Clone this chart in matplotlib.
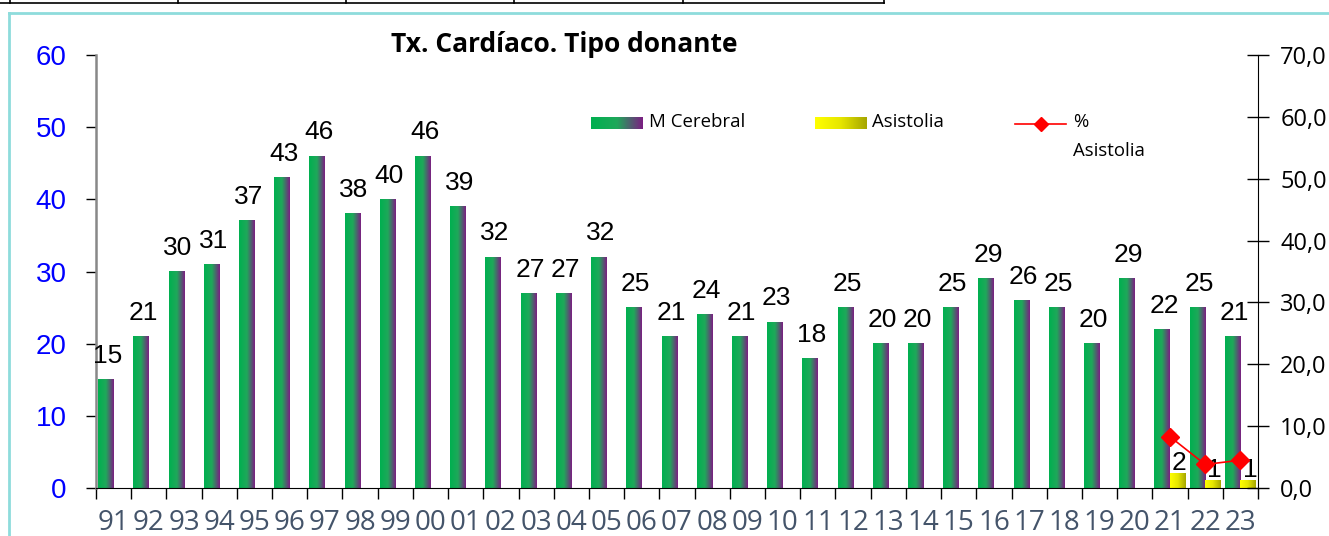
import matplotlib
matplotlib.use("Agg")
import matplotlib.pyplot as plt
import numpy as np
from matplotlib.colors import LinearSegmentedColormap
from matplotlib.lines import Line2D
from matplotlib.ticker import FixedLocator, FuncFormatter

years = ["91", "92", "93", "94", "95", "96", "97", "98", "99", "00", "01",
         "02", "03", "04", "05", "06", "07", "08", "09", "10", "11", "12",
         "13", "14", "15", "16", "17", "18", "19", "20", "21", "22", "23"]
m_cerebral = [15, 21, 30, 31, 37, 43, 46, 38, 40, 46, 39, 32, 27, 27, 32, 25,
              21, 24, 21, 23, 18, 25, 20, 20, 25, 29, 26, 25, 20, 29, 22, 25, 21]
asistolia_years = ["21", "22", "23"]
asistolia = [2, 1, 1]
pct_asistolia = [8.3, 3.8, 4.5]

W, H = 1329, 536
fig = plt.figure(figsize=(W / 100, H / 100), dpi=100)

def fx(px):
    return px / W

def fy(py):
    return 1 - py / H

# outer frame bits (table row above, cyan chart border)
fig.add_artist(Line2D([fx(0), fx(884)], [fy(3), fy(3)], color="black", lw=1.2))
for px in [10, 178, 346, 514, 683, 884]:
    fig.add_artist(Line2D([fx(px), fx(px)], [fy(0), fy(3)], color="black", lw=1.2))
fig.add_artist(Line2D([fx(9), fx(1329)], [fy(13), fy(13)], color="#8EDCDC", lw=2))
fig.add_artist(Line2D([fx(9), fx(9)], [fy(13), fy(536)], color="#8EDCDC", lw=2))

ax = fig.add_axes([fx(96), fy(488), fx(1258) - fx(96), fy(55) - fy(488)])
ax2 = ax.twinx()

green_cmap = LinearSegmentedColormap.from_list("mc", ["#00B050", "#1FA85A", "#7B1F82"])
yellow_cmap = LinearSegmentedColormap.from_list("as", ["#FFFF00", "#E6E600", "#A6A600"])
grad = np.linspace(0, 1, 64).reshape(1, -1)
bw = 0.44

x = np.arange(len(years))
for i, v in enumerate(m_cerebral):
    ax.imshow(grad, extent=(i - bw, i, 0, v), cmap=green_cmap, aspect="auto",
              interpolation="bilinear", zorder=2)
    ax.text(i - bw / 2 + 0.05, v + 2.3, str(v), ha="center", va="baseline",
            fontsize=19, family="Liberation Sans", color="black", zorder=5)

xa = np.array([years.index(y) for y in asistolia_years])
for i, v in zip(xa, asistolia):
    ax.imshow(grad, extent=(i, i + bw, 0, v), cmap=yellow_cmap, aspect="auto",
              interpolation="bilinear", zorder=2)
    ax.text(i + bw / 2 + 0.05, v + 0.5, str(v), ha="center", va="baseline",
            fontsize=19, family="Liberation Sans", color="black", zorder=6)

ax2.plot(xa, pct_asistolia, color="red", lw=1.2, marker="D", markersize=9,
         markerfacecolor="red", markeredgecolor="red", zorder=4)

ax.set_xlim(-0.5, len(years) - 0.5)
ax.set_ylim(0, 60)
ax2.set_ylim(0, 70)

# x axis: tick marks on category boundaries, labels at centres
ax.xaxis.set_major_locator(FixedLocator(np.arange(len(years) + 1) - 0.5))
ax.xaxis.set_minor_locator(FixedLocator(x))
ax.set_xticklabels([], minor=False)
ax.set_xticklabels(years, minor=True)
ax.tick_params(axis="x", which="major", direction="out", length=8, width=1, color="black")
ax.tick_params(axis="x", which="minor", length=0, pad=15, labelsize=20, labelcolor="#44546A")
for t in ax.get_xticklabels(minor=True):
    t.set_family("Open Sans")

ax.set_yticks([0, 10, 20, 30, 40, 50, 60])
ax.tick_params(axis="y", direction="out", length=7, width=1, pad=14,
               labelsize=20, labelcolor="#0000FF")
for t in ax.get_yticklabels():
    t.set_family("Liberation Sans")

ax2.set_yticks([0, 10, 20, 30, 40, 50, 60, 70])
ax2.yaxis.set_major_formatter(FuncFormatter(lambda v, p: f"{v:.1f}".replace(".", ",")))
ax2.tick_params(axis="y", direction="inout", length=16, width=1, pad=8,
                labelsize=17, labelcolor="black")
for t in ax2.get_yticklabels():
    t.set_family("Open Sans")

for a in (ax, ax2):
    a.spines["top"].set_visible(False)
ax.spines["right"].set_visible(False)
ax.spines["left"].set_color("#888888")
ax.spines["left"].set_linewidth(1.8)
ax.spines["bottom"].set_color("black")
ax2.spines["left"].set_visible(False)
ax2.spines["bottom"].set_visible(False)
ax2.spines["right"].set_color("black")

fig.text(fx(564), fy(45), "Tx. Cardíaco. Tipo donante", ha="center", va="center",
         fontsize=19, fontweight="bold", family="Open Sans")

# legend drawn by hand to match the Excel layout
sw = fig.add_axes([fx(591), fy(129), fx(643) - fx(591), fy(117) - fy(129)])
sw.imshow(grad, cmap=green_cmap, aspect="auto", interpolation="bilinear")
sw.axis("off")
fig.text(fx(649), fy(122), "M Cerebral", va="center", fontsize=13.4, family="Open Sans")
sw2 = fig.add_axes([fx(815), fy(129), fx(867) - fx(815), fy(117) - fy(129)])
sw2.imshow(grad, cmap=yellow_cmap, aspect="auto", interpolation="bilinear")
sw2.axis("off")
fig.text(fx(872), fy(122), "Asistolia", va="center", fontsize=13.4, family="Open Sans")
fig.add_artist(Line2D([fx(1015), fx(1066)], [fy(124), fy(124)], color="red", lw=1.2))
fig.add_artist(Line2D([fx(1041)], [fy(124)], color="red", marker="D", markersize=7, lw=0))
fig.text(fx(1073), fy(122), "%", va="center", fontsize=13.4, family="Open Sans")
fig.text(fx(1073), fy(151), "Asistolia", va="center", fontsize=13.4, family="Open Sans")

fig.savefig("out.png", dpi=100)
